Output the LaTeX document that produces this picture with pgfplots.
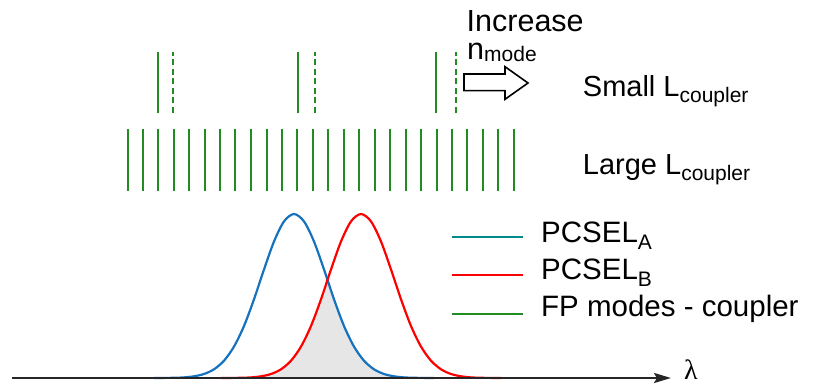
\documentclass[border=0pt]{standalone}
\usepackage{pgfplots}
\pgfplotsset{compat=1.18}
\usepackage{fontspec}
\setmainfont{Liberation Sans}
\newfontfamily\serifl{Liberation Serif}
\usetikzlibrary{arrows.meta}
\definecolor{cblue}{RGB}{20,114,190}
\definecolor{cred}{RGB}{255,0,0}
\definecolor{cgreen}{RGB}{34,139,34}
\definecolor{cteal}{RGB}{0,139,139}
\definecolor{cgray}{RGB}{230,230,230}
\newcommand{\sub}[1]{\raisebox{-6pt}{\fontsize{21}{21}\selectfont #1}}
\begin{document}
\begin{tikzpicture}
\begin{axis}[
  scale only axis, width=813pt, height=391pt,
  xmin=0, xmax=813, ymin=-13, ymax=378,
  axis lines=none, clip=false,
  unbounded coords=jump,
]
\coordinate (bl) at (axis cs:0,-13);
\coordinate (tr) at (axis cs:813,378);
% overlap fill
\addplot[draw=none, fill=cgray] coordinates {
(241,0.2)(246,0.4)(251,0.6)(256,1.0)(261,1.7)(266,2.6)(271,4.0)(276,6.0)(281,8.7)(286,12.4)(291,17.3)(296,23.6)(301,31.4)(306,40.9)(311,52.0)(316,64.7)(321,78.7)(326,93.4)(327.5,98.0)(329,93.4)(334,78.7)(339,64.7)(344,52.0)(349,40.9)(354,31.4)(359,23.6)(364,17.3)(369,12.4)(374,8.7)(379,6.0)(384,4.0)(389,2.6)(394,1.7)(399,1.0)(404,0.6)(409,0.4)(414,0.2)
} \closedcycle;
% PCSEL A
\addplot[cblue, line width=2.2pt, smooth] coordinates {
(154,0)(164,0.1)(174,0.2)(184,0.6)(194,1.7)(204,4.0)(214,8.7)(224,17.3)(234,31.4)(244,52.0)(254,78.7)(264,108.5)(274,136.5)(284,156.6)(294,164)(304,156.6)(314,136.5)(324,108.5)(334,78.7)(344,52.0)(354,31.4)(364,17.3)(374,8.7)(384,4.0)(394,1.7)(404,0.6)(414,0.2)(424,0.1)(434,0)
};
% PCSEL B
\addplot[cred, line width=2.2pt, smooth] coordinates {
(221,0)(231,0.1)(241,0.2)(251,0.6)(261,1.7)(271,4.0)(281,8.7)(291,17.3)(301,31.4)(311,52.0)(321,78.7)(331,108.5)(341,136.5)(351,156.6)(361,164)(371,156.6)(381,136.5)(391,108.5)(401,78.7)(411,52.0)(421,31.4)(431,17.3)(441,8.7)(451,4.0)(461,1.7)(471,0.6)(481,0.2)(491,0.1)(501,0)
};
% small L coupler: solid modes
\addplot[cgreen, line width=2pt] coordinates {
(157.7,265.3)(157.7,325.7)(157.7,nan)
(297.7,265.3)(297.7,325.7)(297.7,nan)
(436,265.3)(436,325.7)
};
% small L coupler: shifted modes (dashed)
\addplot[cgreen, line width=2pt, dash pattern=on 6pt off 3.5pt] coordinates {
(173.3,265.3)(173.3,325.7)(173.3,nan)
(315,265.3)(315,325.7)(315,nan)
(456,265.3)(456,325.7)
};
% large L coupler modes
\addplot[cgreen, line width=2pt] coordinates {
(127.7,187)(127.7,248.7)(127.7,nan)
(143,187)(143,248.7)(143,nan)
(158.3,187)(158.3,248.7)(158.3,nan)
(173.7,187)(173.7,248.7)(173.7,nan)
(189,187)(189,248.7)(189,nan)
(204.7,187)(204.7,248.7)(204.7,nan)
(220,187)(220,248.7)(220,nan)
(235.3,187)(235.3,248.7)(235.3,nan)
(251,187)(251,248.7)(251,nan)
(266.7,187)(266.7,248.7)(266.7,nan)
(282,187)(282,248.7)(282,nan)
(297.3,187)(297.3,248.7)(297.3,nan)
(312.7,187)(312.7,248.7)(312.7,nan)
(328.3,187)(328.3,248.7)(328.3,nan)
(343.7,187)(343.7,248.7)(343.7,nan)
(359.3,187)(359.3,248.7)(359.3,nan)
(374.7,187)(374.7,248.7)(374.7,nan)
(390,187)(390,248.7)(390,nan)
(405.7,187)(405.7,248.7)(405.7,nan)
(421,187)(421,248.7)(421,nan)
(436.7,187)(436.7,248.7)(436.7,nan)
(452,187)(452,248.7)(452,nan)
(467.3,187)(467.3,248.7)(467.3,nan)
(483,187)(483,248.7)(483,nan)
(498.3,187)(498.3,248.7)(498.3,nan)
(514,187)(514,248.7)
};
% wavelength axis
\draw[line width=2.5pt, black!85, -{Stealth[length=17pt,width=10pt,inset=3pt]}] (axis cs:11.7,0) -- (axis cs:671,0);
\node[anchor=base west, inner sep=0pt, font=\serifl\fontsize{28}{28}\selectfont] at (axis cs:684,-1.5) {λ};
% hollow arrow
\draw[line width=1.6pt, black] (axis cs:464,304) -- (axis cs:505,304) -- (axis cs:505,311.3) -- (axis cs:528,295) -- (axis cs:505,278.7) -- (axis cs:505,287.3) -- (axis cs:464,287.3) -- cycle;
\node[anchor=base west, inner sep=0pt, font=\fontsize{30.5}{30}\selectfont] at (axis cs:466.5,346.3) {Increase};
\node[anchor=base west, inner sep=0pt, font=\fontsize{30.5}{30}\selectfont] at (axis cs:467,318) {n\raisebox{-2pt}{\fontsize{21}{21}\selectfont mode}};
\node[anchor=base west, inner sep=0pt, font=\fontsize{29}{29}\selectfont] at (axis cs:582.7,281.5) {Small L\sub{coupler}};
\node[anchor=base west, inner sep=0pt, font=\fontsize{29}{29}\selectfont] at (axis cs:582.7,203.5) {Large L\sub{coupler}};
% legend
\draw[cteal, line width=2pt] (axis cs:451.7,141.3) -- (axis cs:522.7,141.3);
\draw[cred, line width=2pt] (axis cs:451.7,103) -- (axis cs:522.7,103);
\draw[cgreen, line width=2pt] (axis cs:451.7,63.7) -- (axis cs:522.7,63.7);
\node[anchor=base west, inner sep=0pt, font=\fontsize{29.5}{29}\selectfont] at (axis cs:541,135) {PCSEL\sub{A}};
\node[anchor=base west, inner sep=0pt, font=\fontsize{29.5}{29}\selectfont] at (axis cs:541,98) {PCSEL\sub{B}};
\node[anchor=base west, inner sep=0pt, font=\fontsize{29.5}{29}\selectfont] at (axis cs:541,62) {FP modes - coupler};
\end{axis}
\pgfresetboundingbox
\path (bl) rectangle (tr);
\end{tikzpicture}
\end{document}
